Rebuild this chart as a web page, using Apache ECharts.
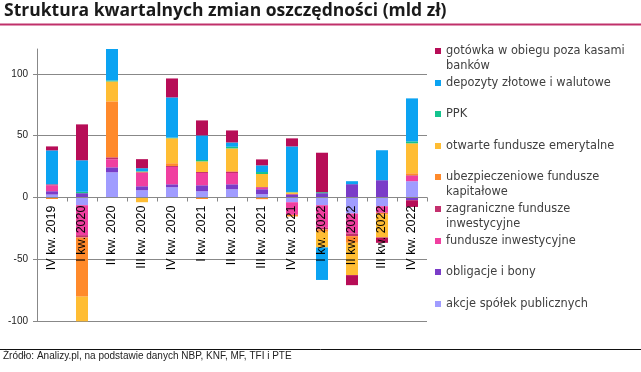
<!DOCTYPE html>
<html><head><meta charset="utf-8">
<script src="https://cdn.jsdelivr.net/npm/echarts@6/dist/echarts.min.js"></script>
<style>html,body{margin:0;padding:0;background:#fff}#c{width:641px;height:372px}</style>
</head><body><div id="c"></div>
<script>
const titleText = 'Struktura kwartalnych zmian oszczędności (mld zł)';
const sourceText = 'Źródło: Analizy.pl, na podstawie danych NBP, KNF, MF, TFI i PTE';
const categories = ['IV kw. 2019','I kw. 2020','II kw. 2020','III kw. 2020','IV kw. 2020','I kw. 2021','II kw. 2021','III kw. 2021','IV kw. 2021','I kw. 2022','II kw. 2022','III kw. 2022','IV kw. 2022'];
const yTicks = [-100, -50, 0, 50, 100];

const akcje        = [2.4, -6.2, 20.4, 5.9, 8.3, 5.1, 6.7, 2.7, -3.8, -6.2, -12.9, -7.0, 13.2];
const obligacje    = [2.7, 3.5, 4.0, 3.2, 2.4, 4.8, 4.0, 4.0, 2.4, 3.5, 10.8, 14.0, -2.2];
const fundusze     = [4.8, -24.2, 6.5, 10.8, 14.0, 9.9, 9.1, 1.3, -10.2, -18.3, -16.1, -5.1, 4.3];
const zagraniczne  = [0.8, -1.9, 1.6, 0.5, 0.8, 0.8, 1.1, 0.5, 0.5, -1.3, -2.2, -0.4, 0.5];
const ubezpieczeniowe = [-1.2, -47.8, 45.2, 0.5, 2.2, -1.2, 0.5, -1.3, -1.3, -1.9, -5.4, -1.3, 1.6];
const otwarte      = [0, -20, 16.1, -3.8, 20.2, 8.6, 18.3, 10.5, 1.3, -12.6, -26.1, -18.5, 24.2];
const ppk          = [0, 1.1, 0.8, 0.4, 0.5, 1.1, 1.3, 1.6, 0.3, 0.8, 0, 0, 1.6];
const depozyty     = [27.4, 25.5, 28, 2.4, 32.5, 19.9, 3.5, 5.4, 36.8, -26.3, 2.4, 24.2, 34.7];
const gotowka      = [3.2, 29, 0, 7.3, 15.3, 12.1, 9.7, 4.8, 6.5, 31.9, -8.1, -4.3, -5.4];

const seriesDefs = [
  ['akcje spółek publicznych', akcje, '#A09CFF'],
  ['obligacje i bony', obligacje, '#7A3CC8'],
  ['fundusze inwestycyjne', fundusze, '#F03FA0'],
  ['zagraniczne fundusze inwestycyjne', zagraniczne, '#C4306E'],
  ['ubezpieczeniowe fundusze kapitałowe', ubezpieczeniowe, '#FF8A2B'],
  ['otwarte fundusze emerytalne', otwarte, '#FFBD33'],
  ['PPK', ppk, '#14C38E'],
  ['depozyty złotowe i walutowe', depozyty, '#0BA3F2'],
  ['gotówka w obiegu poza kasami banków', gotowka, '#B70D57']
];
// legend labels: first line shown in the legend, continuation line below it
const legendLines = {
  'gotówka w obiegu poza kasami banków': ['gotówka w obiegu poza kasami', 'banków'],
  'ubezpieczeniowe fundusze kapitałowe': ['ubezpieczeniowe fundusze', 'kapitałowe'],
  'zagraniczne fundusze inwestycyjne': ['zagraniczne fundusze', 'inwestycyjne']
};

const LH = 15, LEG_X = 435, ICON = 6, LEG_FS = 11.4;
const legendCenters = [51, 83, 114, 146, 177, 209, 241, 272, 304];
const legendOrder = seriesDefs.slice().reverse();
const legendFont = { fontFamily: 'DejaVu Sans', fontSize: LEG_FS, color: '#404040', lineHeight: LH };
const legends = legendOrder.map((d, i) => ({
  data: [d[0]], orient: 'vertical', left: LEG_X, top: legendCenters[i] - LH / 2,
  padding: 0, icon: 'rect', itemWidth: ICON, itemHeight: ICON, selectedMode: false,
  formatter: n => legendLines[n] ? legendLines[n][0] : n,
  textStyle: legendFont
}));
const contGraphics = [];
legendOrder.forEach((d, i) => {
  if (legendLines[d[0]]) {
    contGraphics.push({
      type: 'text', left: LEG_X + ICON + 5, top: legendCenters[i] + LH / 2, silent: true,
      style: { text: legendLines[d[0]][1], font: LEG_FS + 'px "DejaVu Sans"', fill: '#404040', lineHeight: LH, verticalAlign: 'top' }
    });
  }
});

const gridTop = 49, gridBottomY = 321.3, yMax = 120;
const zeroY = gridBottomY - (0 - yTicks[0]) / (yMax - yTicks[0]) * (gridBottomY - gridTop);

const chart = echarts.init(document.getElementById('c'), null, { renderer: 'canvas' });
chart.setOption({
  animation: false,
  backgroundColor: '#fff',
  title: [
    { text: titleText, left: 4, top: 2, padding: 0, textStyle: { fontFamily: 'Open Sans', fontWeight: 'bold', fontSize: 17.5, color: '#1a1a1a' } },
    { text: sourceText, left: 3, top: 351, padding: 0, textStyle: { fontFamily: 'Liberation Sans', fontWeight: 'normal', fontSize: 10, color: '#222' } }
  ],
  graphic: [
    { type: 'line', shape: { x1: 0, y1: 24.5, x2: 641, y2: 24.5 }, style: { stroke: '#C0306A', lineWidth: 2 } },
    { type: 'line', shape: { x1: 0, y1: 349.5, x2: 641, y2: 349.5 }, style: { stroke: '#111', lineWidth: 1 } }
  ].concat(contGraphics),
  legend: legends,
  grid: { left: 37, right: 214, top: gridTop, bottom: 372 - gridBottomY, containLabel: false, outerBoundsMode: 'none' },
  xAxis: {
    type: 'category', data: categories, z: 10,
    offset: -(gridBottomY - zeroY),
    axisLine: { onZero: false, lineStyle: { color: '#888', width: 1 } },
    axisTick: { show: true, length: 4, lineStyle: { color: '#888' } },
    axisLabel: { rotate: 90, margin: 8, interval: 0, fontFamily: 'Liberation Sans', fontSize: 12.5, color: '#000' }
  },
  yAxis: {
    type: 'value', min: yTicks[0], max: yMax, interval: 50,
    axisLine: { show: true, lineStyle: { color: '#888' } },
    axisTick: { show: true, length: 4, lineStyle: { color: '#888' } },
    axisLabel: { margin: 9, showMaxLabel: false, fontFamily: 'Liberation Sans', fontSize: 10, color: '#222' },
    splitLine: { show: true, showMaxLine: false, lineStyle: { color: '#888', width: 1 } }
  },
  series: seriesDefs.map(d => ({
    name: d[0], type: 'bar', stack: 'total', data: d[1], barWidth: 12,
    itemStyle: { color: d[2] }, clip: true
  }))
});
</script></body></html>
